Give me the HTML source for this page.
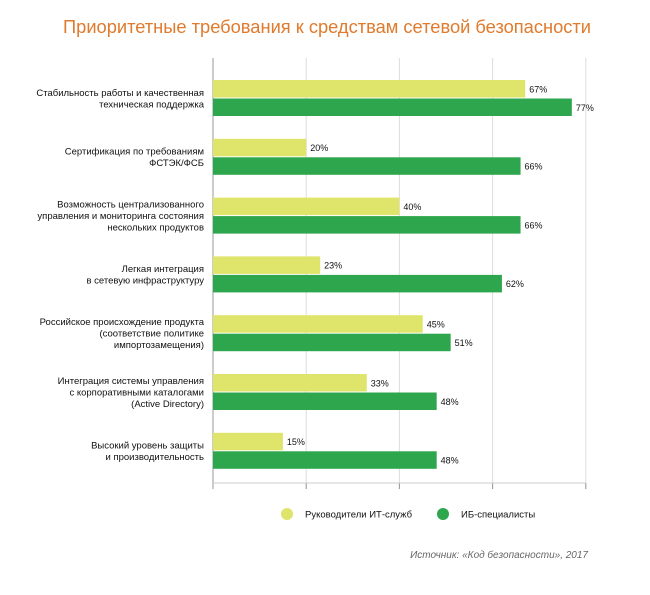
<!DOCTYPE html>
<html><head><meta charset="utf-8"><style>
body{margin:0;background:#fff;font-family:"Liberation Sans",sans-serif}
</style></head><body>
<svg id="c" width="650" height="590" xmlns="http://www.w3.org/2000/svg" font-family="Liberation Sans, sans-serif">
<text x="327" y="33" text-anchor="middle" font-size="18.3" fill="#e07a2c">Приоритетные требования к средствам сетевой безопасности</text>
<g id="grid"></g><g id="bars"></g><g id="labels"></g>
<g>
<circle cx="287" cy="514" r="6" fill="#dfe46a"/>
<text x="305" y="517.5" font-size="9.5" fill="#111">Руководители ИТ-служб</text>
<circle cx="443" cy="514" r="6" fill="#2ea64d"/>
<text x="461" y="517.5" font-size="9.5" fill="#111">ИБ-специалисты</text>
</g>
<text x="588" y="558" text-anchor="end" font-size="10" font-style="italic" fill="#666">Источник: «Код безопасности», 2017</text>
</svg>
<script>
const categories=[["Стабильность работы и качественная","техническая поддержка"],["Сертификация по требованиям","ФСТЭК/ФСБ"],["Возможность централизованного","управления и мониторинга состояния","нескольких продуктов"],["Легкая интеграция","в сетевую инфраструктуру"],["Российское происхождение продукта","(соответствие политике","импортозамещения)"],["Интеграция системы управления","с корпоративными каталогами","(Active Directory)"],["Высокий уровень защиты","и производительность"]];
const managers=[67,20,40,23,45,33,15];
const specialists=[77,66,66,62,51,48,48];
const ticks=[0,20,40,60,80];
const NS="http://www.w3.org/2000/svg";
const x0=213,pxPer=4.66,top0=80,step=58.8,bh=17.5;
const xs=v=>x0+v*pxPer;
function mk(t,a,p){const e=document.createElementNS(NS,t);for(const k in a)e.setAttribute(k,a[k]);document.getElementById(p).appendChild(e);return e;}
ticks.forEach((t,i)=>{
 const l=mk('line',{x1:xs(t),x2:xs(t),y1:58,y2:489,stroke:i==0?'#999':'#ddd','stroke-width':1},'grid');
 
 
 const tk=mk('line',{x1:xs(t),x2:xs(t),y1:483,y2:489,stroke:'#999','stroke-width':1},'grid');
 
 
});
const ax=mk('line',{x1:x0,x2:xs(80),y1:483,y2:483,stroke:'#ccc','stroke-width':1},'grid');


categories.forEach((c,i)=>{
 const y=top0+i*step;
 [[managers[i],'#dfe46a','managers'],[specialists[i],'#2ea64d','specialists']].forEach(([v,col,n],j)=>{
  const yy=y+j*(bh+1);
  const r=mk('rect',{x:x0,y:yy,width:v*pxPer,height:bh,fill:col},'bars');
  
  
  const t=mk('text',{x:xs(v)+4,y:yy+bh/2+3.5,'font-size':9,fill:'#111'},'labels');
  t.textContent=v+'%';
  
  
 });
 const mid=y+bh+0.5,lh=11.5,start=mid-(c.length-1)*lh/2+3.5;
 c.forEach((s,k)=>{
  const t=mk('text',{x:204,y:start+k*lh,'text-anchor':'end','font-size':9.5,fill:'#111'},'labels');
  t.textContent=s;
  
  
 });
});
</script>
</body></html>
